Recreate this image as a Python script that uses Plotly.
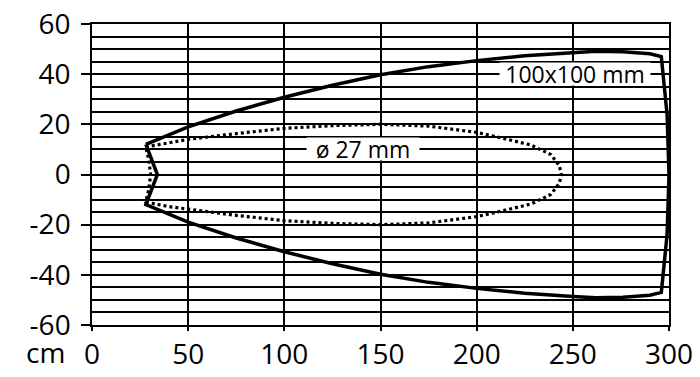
import plotly.graph_objects as go

# Solid curve: 100x100 mm (closed outline, going round clockwise)
solid_x = [28, 50, 75, 100, 125, 150, 175, 200, 225, 250, 262, 276, 290, 296,
           299, 300, 299,
           296, 290, 276, 262, 250, 225, 200, 175, 150, 125, 100, 75, 50, 28,
           34, 28]
solid_y = [12, 19, 25.3, 30.8, 35.6, 39.8, 43, 45.4, 47.3, 48.6, 49.1, 48.9, 48.1, 47,
           24, 0, -24,
           -47, -48.1, -48.9, -49.1, -48.6, -47.3, -45.4, -43, -39.8, -35.6, -30.8, -25.3, -19, -12,
           0, 12]

# Dotted curve: ø 27 mm
dot_x = [28, 40, 50, 75, 100, 125, 150, 175, 200, 215, 228, 238.5, 243, 244,
         243, 238.5, 228, 215, 200, 175, 150, 125, 100, 75, 50, 40, 28,
         29.5, 30.5, 29.5, 28]
dot_y = [11, 12.8, 14, 16.3, 18.4, 19.5, 20, 19.3, 16.8, 14.2, 11.8, 8, 3.5, 0,
         -3.5, -8, -11.8, -14.2, -16.8, -19.3, -20, -19.5, -18.4, -16.3, -14, -12.8, -11,
         -6, 0, 6, 11]

x_ticks = [0, 50, 100, 150, 200, 250, 300]
x_ticktext = ["0", "50", "100", "150", "200", "250", "300"]
y_ticks = [-60, -40, -20, 0, 20, 40, 60]
y_ticktext = ["-60", "-40", "-20", "0", "20", "40", "60"]

labels = ["100x100 mm", "ø 27 mm"]
label_x = [251, 141]
label_y = [40, 10]
label_w = [150, 112]

FONT = "Open Sans"

fig = go.Figure()
fig.add_trace(go.Scatter(x=dot_x, y=dot_y, mode="lines",
                         line=dict(color="black", width=3.2, dash="3px,3px"),
                         hoverinfo="skip", showlegend=False))
fig.add_trace(go.Scatter(x=solid_x, y=solid_y, mode="lines",
                         line=dict(color="black", width=3.5),
                         hoverinfo="skip", showlegend=False))

for t, lx, ly, w in zip(labels, label_x, label_y, label_w):
    fig.add_annotation(x=lx, y=ly, xref="x", yref="y", text=t, showarrow=False,
                       font=dict(family=FONT, size=23, color="black"),
                       bgcolor="white", borderpad=0, width=w, height=22)

fig.add_annotation(x=-0.081, y=0, xref="paper", yref="paper", text="cm",
                   showarrow=False, xanchor="center", yanchor="middle", yshift=-27,
                   font=dict(family=FONT, size=28, color="black"))

fig.update_layout(
    width=692, height=369,
    margin=dict(l=84, r=31, t=16, b=52),
    paper_bgcolor="white", plot_bgcolor="white",
    showlegend=False,
    font=dict(family=FONT, size=28, color="black"),
    xaxis=dict(range=[0, 300], tickvals=x_ticks, ticktext=x_ticktext,
               showgrid=True, gridcolor="black", gridwidth=1.5,
               zeroline=False, showline=True, mirror=True,
               linecolor="black", linewidth=1.5, automargin=False,
               ticks="outside", ticklen=4, tickwidth=1.5, tickcolor="black",
               ticklabeloverflow="allow", fixedrange=True),
    yaxis=dict(range=[-60, 60], tickvals=y_ticks, ticktext=y_ticktext,
               showgrid=True, gridcolor="black", gridwidth=1.5,
               minor=dict(dtick=5, tick0=0, showgrid=True, gridcolor="black", gridwidth=1.5),
               zeroline=False, showline=True, mirror=True,
               linecolor="black", linewidth=1.5, automargin=False,
               ticks="outside", ticklen=9, tickwidth=1.5, tickcolor="black",
               ticklabelstandoff=5, ticklabeloverflow="allow", fixedrange=True),
)

fig.write_html("out.html")
